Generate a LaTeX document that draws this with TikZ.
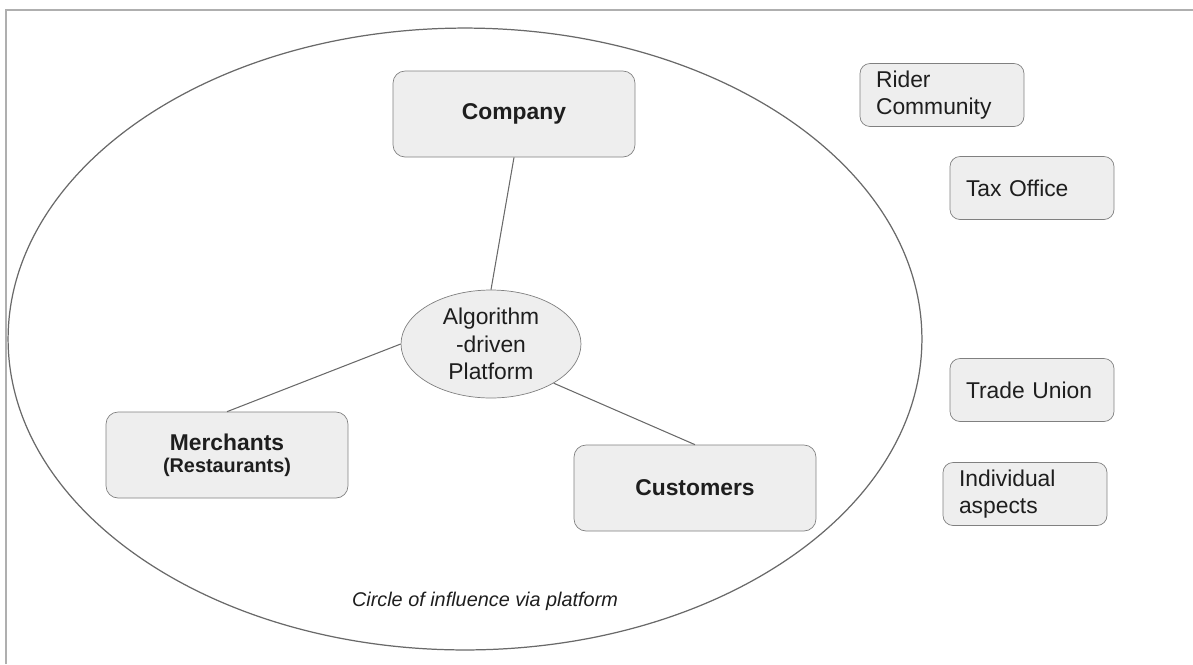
\documentclass[tikz,border=0pt]{standalone}
\usepackage{fontspec}
\setmainfont{Liberation Sans}
\usetikzlibrary{shapes.geometric}
\definecolor{boxfill}{RGB}{238,238,238}
\definecolor{boxline}{RGB}{128,128,128}
\definecolor{wireline}{RGB}{105,105,105}
\definecolor{framegray}{RGB}{175,175,175}
\definecolor{inktext}{RGB}{30,30,30}

\begin{document}
\begin{tikzpicture}[x=0.02cm,y=-0.02cm,
    actorbox/.style={draw=boxline,fill=boxfill,rounded corners=0.24cm,align=center,
                     minimum width=4.84cm,minimum height=1.72cm,text=inktext,
                     font=\bfseries\fontsize{13}{15.5}\selectfont},
    sidebox/.style={draw=boxline,fill=boxfill,rounded corners=0.2cm,align=left,
                    text width=2.64cm,inner xsep=0.32cm,minimum height=1.26cm,
                    text=inktext,font=\fontsize{13}{15.5}\selectfont},
    hub/.style={draw=boxline,fill=boxfill,ellipse,align=center,inner sep=0pt,
                minimum width=3.6cm,minimum height=2.16cm,text=inktext,
                font=\fontsize{13}{15.8}\selectfont},
    wire/.style={draw=wireline,line width=0.6pt}]
    \useasboundingbox (0,0) rectangle (1193,664);
    % cropped frame
    \draw[framegray,line width=1pt] (6,664) -- (6,10) -- (1193,10);
    % circle of influence
    \node[draw=wireline,line width=0.7pt,ellipse,minimum width=18.28cm,minimum height=12.44cm]
        (influence) at (465,339) {};
    \node[text=inktext,font=\itshape\fontsize{11.3}{13}\selectfont] (influencelabel) at (485,601)
        {Circle of influence via platform};

    \node[actorbox] (company) at (514,114) {Company};
    \node[hub] (platform) at (491,344) {Algorithm\\-driven\\Platform};
    \node[actorbox] (merchants) at (227,455)
        {Merchants\\[-3pt]{\fontsize{11.3}{13}\selectfont (Restaurants)}};
    \node[actorbox] (customers) at (695,488) {Customers};

    \draw[wire] (company.south) -- (platform.north);
    \draw[wire] (platform.west) -- (merchants.north);
    \draw[wire] (platform.-32) -- (customers.north);

    % outside the circle
    \node[sidebox] (rider) at (942,95) {Rider\\Community};
    \node[sidebox] (tax) at (1032,188) {Tax Office};
    \node[sidebox] (union) at (1032,390) {Trade Union};
    \node[sidebox] (individual) at (1025,494) {Individual\\aspects};
\end{tikzpicture}
\end{document}
